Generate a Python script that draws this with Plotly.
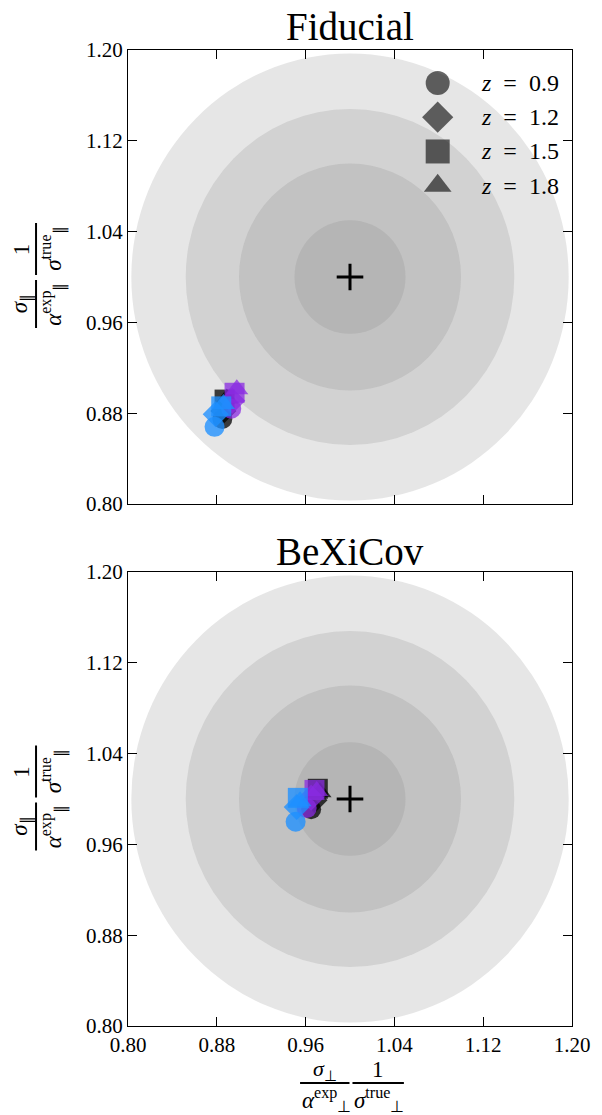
import plotly.graph_objects as go
from plotly.subplots import make_subplots

# ---- data -------------------------------------------------------------
z_labels = ["0.9", "1.2", "1.5", "1.8"]
z_symbols = ["circle", "diamond", "square", "triangle-up"]

variants = ["black", "violet", "blue"]
variant_colors = ["rgba(0,0,0,0.75)", "rgba(138,43,226,0.75)", "rgba(30,144,255,0.78)"]

# Fiducial panel: alpha_perp and alpha_par ratios, one list per variant (ordered by z)
fid_x_black = [0.885, 0.886, 0.887, 0.889]
fid_y_black = [0.875, 0.882, 0.892, 0.893]
fid_x_violet = [0.893, 0.894, 0.896, 0.898]
fid_y_violet = [0.884, 0.891, 0.898, 0.901]
fid_x_blue = [0.878, 0.879, 0.884, 0.886]
fid_y_blue = [0.868, 0.879, 0.886, 0.888]

# BeXiCov panel
bxc_x_black = [0.965, 0.968, 0.971, 0.973]
bxc_y_black = [0.991, 0.999, 1.009, 1.006]
bxc_x_violet = [0.961, 0.965, 0.968, 0.970]
bxc_y_violet = [0.992, 1.001, 1.008, 1.007]
bxc_x_blue = [0.951, 0.952, 0.953, 0.955]
bxc_y_blue = [0.980, 0.993, 1.001, 0.998]

# reference point and confidence discs
ref_point = (1.0, 1.0)
disc_radii = [0.197, 0.148, 0.10, 0.05]

tick_vals = [0.80, 0.88, 0.96, 1.04, 1.12, 1.20]
tick_text = ["0.80", "0.88", "0.96", "1.04", "1.12", "1.20"]
axis_range = [0.80, 1.20]

panel_titles = ["Fiducial", "BeXiCov"]

# ---- figure -------------------------------------------------------------
W, H = 602, 1115
ML, MR, MT, MB = 128, 25, 50, 89
PW, PH = W - ML - MR, H - MT - MB
SERIF = "Liberation Serif"

fig = make_subplots(rows=2, cols=1, vertical_spacing=68 / PH)
fig.update_layout(
    width=W, height=H,
    margin=dict(l=ML, r=MR, t=MT, b=MB),
    paper_bgcolor="white", plot_bgcolor="white",
    showlegend=False,
    font=dict(family=SERIF, size=20, color="black"),
)

panels = [
    (1, [fid_x_black, fid_x_violet, fid_x_blue], [fid_y_black, fid_y_violet, fid_y_blue]),
    (2, [bxc_x_black, bxc_x_violet, bxc_x_blue], [bxc_y_black, bxc_y_violet, bxc_y_blue]),
]

for row, xs_list, ys_list in panels:
    xref = "x" if row == 1 else "x2"
    yref = "y" if row == 1 else "y2"
    for r in disc_radii:
        fig.add_shape(type="circle", xref=xref, yref=yref,
                      x0=ref_point[0] - r, x1=ref_point[0] + r,
                      y0=ref_point[1] - r, y1=ref_point[1] + r,
                      fillcolor="rgba(128,128,128,0.2)", line=dict(width=0),
                      layer="below")
    for name, color, xs, ys in zip(variants, variant_colors, xs_list, ys_list):
        fig.add_trace(go.Scatter(
            x=xs, y=ys, mode="markers", name=name,
            marker=dict(symbol=z_symbols, size=20, color=color, line=dict(width=0)),
        ), row=row, col=1)
    fig.add_trace(go.Scatter(
        x=[ref_point[0]], y=[ref_point[1]], mode="markers",
        marker=dict(symbol="cross-thin", size=19, line=dict(width=3, color="black")),
    ), row=row, col=1)

axis_style = dict(
    range=axis_range, tickvals=tick_vals, ticktext=tick_text,
    ticks="inside", ticklen=9, tickwidth=1.3, tickcolor="black",
    showline=True, linecolor="black", linewidth=1.3, mirror="allticks",
    showgrid=False, zeroline=False,
    tickfont=dict(family=SERIF, size=21, color="black"),
)
fig.update_xaxes(**axis_style)
fig.update_yaxes(**axis_style)
fig.update_xaxes(showticklabels=False, row=1, col=1)

# ---- legend (marker shapes per redshift) --------------------------------
leg_x0, leg_y0, leg_dy = 1.079, 1.171, 0.0302
leg_x = [leg_x0] * len(z_labels)
leg_y = [leg_y0 - i * leg_dy for i in range(len(z_labels))]
fig.add_trace(go.Scatter(
    x=leg_x, y=leg_y, mode="markers",
    marker=dict(symbol=z_symbols, size=24, color="rgba(0,0,0,0.6)", line=dict(width=0)),
), row=1, col=1)
for lx, ly, lab in zip(leg_x, leg_y, z_labels):
    fig.add_annotation(x=lx, y=ly, xref="x", yref="y", xshift=41,
                       text=f"<i>z</i>&nbsp;&nbsp;=&nbsp;&nbsp;{lab}", showarrow=False,
                       xanchor="left", yanchor="middle",
                       font=dict(family=SERIF, size=24, color="black"))

# ---- panel titles -------------------------------------------------------
def px_to_paper(px, py):
    return (px - ML) / PW, (MT + PH - py) / PH

for title, ty in zip(panel_titles, [27, 551]):
    xp, yp = px_to_paper(353, ty)
    fig.add_annotation(x=xp, y=yp, xref="paper", yref="paper", text=title,
                       showarrow=False, xanchor="center", yanchor="middle",
                       font=dict(family=SERIF, size=39, color="black"))

# ---- axis labels built as stacked fractions -----------------------------
def text_at(px, py, s, size=23, angle=0):
    xp, yp = px_to_paper(px, py)
    fig.add_annotation(x=xp, y=yp, xref="paper", yref="paper", text=s,
                       showarrow=False, xanchor="center", yanchor="middle",
                       textangle=angle, font=dict(family=SERIF, size=size, color="black"))

def bar(px0, py0, px1, py1):
    x0, y0 = px_to_paper(px0, py0)
    x1, y1 = px_to_paper(px1, py1)
    fig.add_shape(type="line", xref="paper", yref="paper", x0=x0, y0=y0, x1=x1, y1=y1,
                  line=dict(color="black", width=2))

# x label (bottom panel)
bar(302, 1083, 352, 1083)
text_at(327, 1070, "<i>σ</i><sub>⊥</sub>", size=22)
text_at(329, 1099, "<i>α</i><sup>exp</sup><sub>⊥</sub>")
bar(355, 1083, 407, 1083)
text_at(381, 1069, "1")
text_at(382, 1099, "<i>σ</i><sup>true</sup><sub>⊥</sub>")

# y labels (both panels)
for dy in [0, 522.5]:
    bar(35, 280 + dy, 35, 328 + dy)
    text_at(20, 304 + dy, "<i>σ</i><sub>∥</sub>", angle=-90)
    text_at(52, 304 + dy, "<i>α</i><sup>exp</sup><sub>∥</sub>", angle=-90)
    bar(35, 223 + dy, 35, 275 + dy)
    text_at(20, 249 + dy, "1", angle=-90)
    text_at(52, 249 + dy, "<i>σ</i><sup>true</sup><sub>∥</sub>", angle=-90)

fig.write_html("out.html")
